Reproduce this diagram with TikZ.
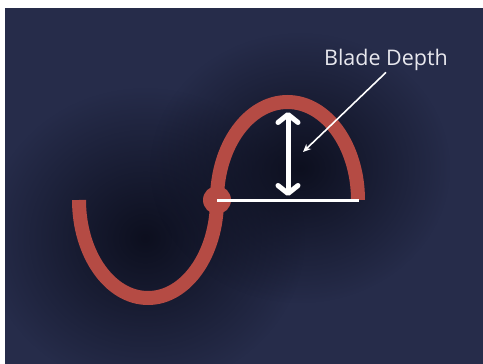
\documentclass[tikz,border=0pt]{standalone}
\usepackage{fontspec}
\setmainfont{Open Sans}
\usetikzlibrary{arrows.meta,fadings}
\definecolor{navy}{RGB}{38,44,74}
\definecolor{navydark}{RGB}{10,12,26}
\definecolor{blade}{RGB}{181,75,68}
\definecolor{labelgrey}{RGB}{232,232,238}
\tikzfading[name=glow, inner color=transparent!0, outer color=transparent!100]
\tikzset{
  bladeline/.style={blade, line width=14pt},
  whiteline/.style={white, line width=3pt},
  shadow/.style={fill=navydark, path fading=glow, fill opacity=0.9}
}
\begin{document}
\begin{tikzpicture}[x=1pt, y=-1pt]
    \useasboundingbox (0,0) rectangle (483,364);
    % Background
    \fill[white] (0,0) rectangle (483,364);
    \fill[navy] (5,8) rectangle (483,364);

    % Dark shadows round the blade
    \begin{scope}
        \clip (5,8) rectangle (483,364);
        \fill[shadow] (145,238) ellipse (160 and 150);
        \fill[shadow] (300,168) ellipse (150 and 135);
    \end{scope}

    % Blade: lower and upper half
    \draw[bladeline] (79,200) arc[start angle=180, end angle=0, x radius=69, y radius=98];
    \draw[bladeline] (217,200) arc[start angle=180, end angle=360, x radius=70.5, y radius=98];
    \node[circle, fill=blade, minimum size=28pt, inner sep=0pt] (joint) at (217,200) {};

    % Base line of the upper half
    \coordinate (rim) at (359,200);
    \draw[whiteline] (joint.center) -- (rim);

    % Depth arrow
    \coordinate (crest) at (288,112);
    \coordinate (foot) at (288,196);
    \draw[white, line width=5pt, {Straight Barb[round, length=8pt, width=20pt]}-{Straight Barb[round, length=8pt, width=20pt]}] (crest) -- (foot);

    % Label and pointer
    \node[anchor=base, text=labelgrey, font=\fontsize{21.5}{24}\selectfont, inner sep=1pt] (label) at (386,66) {Blade Depth};
    \coordinate (hit) at (303,152);
    \draw[white, line width=1.6pt, -{Stealth[length=8pt, width=7pt]}] (label.south) -- (hit);
\end{tikzpicture}
\end{document}
